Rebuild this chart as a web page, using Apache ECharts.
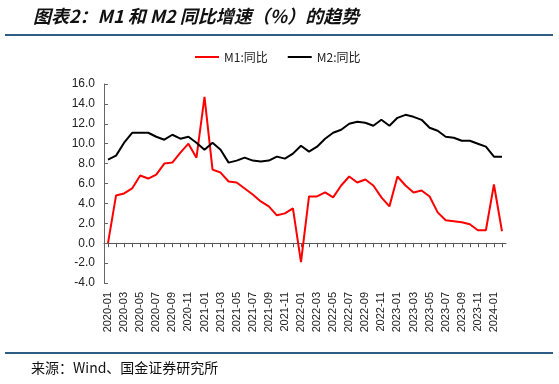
<!DOCTYPE html>
<html>
<head>
<meta charset="utf-8">
<script src="https://cdn.jsdelivr.net/npm/echarts@6/dist/echarts.min.js"></script>
<style>
html,body{margin:0;padding:0;background:#fff;}
#chart{width:559px;height:384px;}
</style>
</head>
<body>
<div id="chart"></div>
<script>
var categories = [
 '2020-01','2020-02','2020-03','2020-04','2020-05','2020-06','2020-07','2020-08','2020-09','2020-10','2020-11','2020-12',
 '2021-01','2021-02','2021-03','2021-04','2021-05','2021-06','2021-07','2021-08','2021-09','2021-10','2021-11','2021-12',
 '2022-01','2022-02','2022-03','2022-04','2022-05','2022-06','2022-07','2022-08','2022-09','2022-10','2022-11','2022-12',
 '2023-01','2023-02','2023-03','2023-04','2023-05','2023-06','2023-07','2023-08','2023-09','2023-10','2023-11','2023-12',
 '2024-01','2024-02'
];
var m1 = [
 0.0, 4.8, 5.0, 5.5, 6.8, 6.5, 6.9, 8.0, 8.1, 9.1, 10.0, 8.6,
 14.7, 7.4, 7.1, 6.2, 6.1, 5.5, 4.9, 4.2, 3.7, 2.8, 3.0, 3.5,
 -1.9, 4.7, 4.7, 5.1, 4.6, 5.8, 6.7, 6.1, 6.4, 5.8, 4.6, 3.7,
 6.7, 5.8, 5.1, 5.3, 4.7, 3.1, 2.3, 2.2, 2.1, 1.9, 1.3, 1.3,
 5.9, 1.2
];
var m2 = [
 8.4, 8.8, 10.1, 11.1, 11.1, 11.1, 10.7, 10.4, 10.9, 10.5, 10.7, 10.1,
 9.4, 10.1, 9.4, 8.1, 8.3, 8.6, 8.3, 8.2, 8.3, 8.7, 8.5, 9.0,
 9.8, 9.2, 9.7, 10.5, 11.1, 11.4, 12.0, 12.2, 12.1, 11.8, 12.4, 11.8,
 12.6, 12.9, 12.7, 12.4, 11.6, 11.3, 10.7, 10.6, 10.3, 10.3, 10.0, 9.7,
 8.7, 8.7
];
var seriesNames = ['M1:同比', 'M2:同比'];
var titleText = '图表2：M1 和 M2 同比增速（%）的趋势';
var sourceText = '来源：Wind、国金证券研究所';

var chart = echarts.init(document.getElementById('chart'));
var labelFont = '"Liberation Sans", Arial, sans-serif';
chart.setOption({
  animation: false,
  backgroundColor: '#fff',
  graphic: [
    {type:'text', left:33, top:7, style:{text:titleText, fill:'#111', font:'italic bold 18px "Noto Sans CJK SC", sans-serif'}},
    {type:'rect', shape:{x:5, y:34, width:548, height:2}, style:{fill:'#2D5C85'}},
    {type:'rect', shape:{x:5, y:352, width:548, height:2}, style:{fill:'#2D5C85'}},
    {type:'text', left:31, top:361, style:{text:sourceText, fill:'#111', font:'14px "Noto Sans CJK SC", sans-serif'}}
  ],
  legend: {
    left: 190, top: 46, itemGap: 20, itemWidth: 24, itemHeight: 2,
    icon: 'rect',
    textStyle: {fontSize: 12, color: '#222', fontFamily: '"Noto Sans CJK SC", sans-serif'},
    data: seriesNames
  },
  grid: {left: 104, right: 53, top: 84, bottom: 101, containLabel: false},
  xAxis: [
    {
      type: 'category', data: categories, boundaryGap: true,
      axisLine: {onZero: true, lineStyle: {color: '#555', width: 1}},
      axisTick: {show: true, interval: 0, alignWithLabel: true, length: 4, lineStyle: {color: '#555'}},
      axisLabel: {show: false, interval: 0},
      splitLine: {show: false}
    },
    {
      type: 'category', data: categories, boundaryGap: true, position: 'bottom',
      axisLine: {show: false, onZero: false},
      axisTick: {show: false},
      axisLabel: {show: true, interval: 1, rotate: 90, fontSize: 11, color: '#222', margin: 9, fontFamily: labelFont},
      splitLine: {show: false}
    }
  ],
  yAxis: {
    type: 'value', min: -4, max: 16, interval: 2,
    axisLine: {show: true, lineStyle: {color: '#666'}},
    axisTick: {show: true, inside: true, length: 4, lineStyle: {color: '#666'}},
    axisLabel: {fontSize: 12, color: '#222', margin: 9, fontFamily: labelFont, formatter: function(v){return v.toFixed(1);}},
    splitLine: {show: false}
  },
  series: [
    {name: seriesNames[0], type: 'line', data: m1, xAxisIndex: 0, showSymbol: false, symbol: 'none',
     lineStyle: {color: '#FF0000', width: 2}, itemStyle: {color: '#FF0000'}},
    {name: seriesNames[1], type: 'line', data: m2, xAxisIndex: 0, showSymbol: false, symbol: 'none',
     lineStyle: {color: '#000000', width: 2}, itemStyle: {color: '#000000'}}
  ]
});
</script>
</body>
</html>
